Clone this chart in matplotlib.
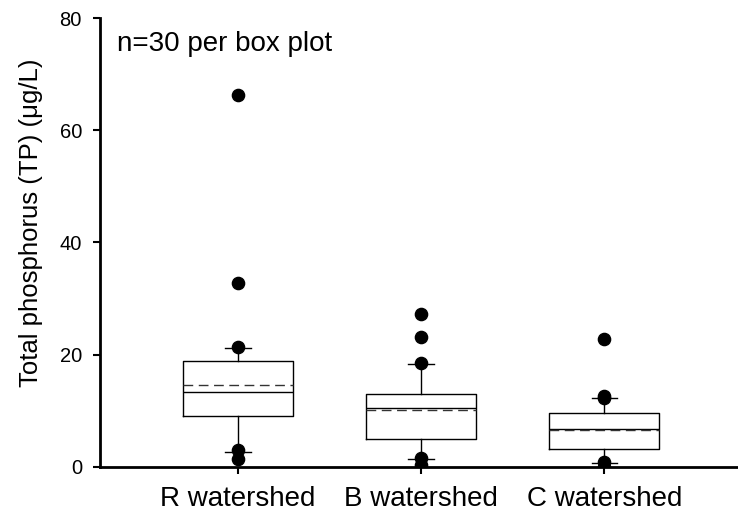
import matplotlib
matplotlib.use("Agg")
import matplotlib.pyplot as plt

plt.rcParams['font.family'] = ['Liberation Sans', 'DejaVu Sans']

# Box-plot summaries per watershed (TP, ug/L)
categories = ["R watershed", "B watershed", "C watershed"]
q1 = [9.1, 4.9, 3.1]
q3 = [18.9, 12.9, 9.5]
medians = [13.4, 10.5, 6.75]
means = [14.5, 10.1, 6.6]
whisker_low = [2.7, 1.4, 0.6]
whisker_high = [21.2, 18.4, 12.2]
outliers = [
    [66.4, 32.7, 21.4, 2.9, 1.3],
    [27.2, 23.1, 18.5, 1.5, 0.3],
    [22.7, 12.7, 12.2, 0.75, 0.0],
]
y_ticks = [0, 20, 40, 60, 80]

fig = plt.figure(figsize=(7.38, 5.15), dpi=100)
ax = fig.add_axes([0.1355, 0.0938, 0.8645, 0.8707])

stats = []
for i, name in enumerate(categories):
    stats.append(dict(label=name, q1=q1[i], q3=q3[i], med=medians[i],
                      mean=means[i], whislo=whisker_low[i],
                      whishi=whisker_high[i], fliers=outliers[i]))

positions = list(range(1, len(categories) + 1))
ax.bxp(stats, positions=positions, widths=0.6, showmeans=True, meanline=True,
       showfliers=True, capwidths=0.14,
       boxprops=dict(color='black', linewidth=1.0),
       medianprops=dict(color='black', linewidth=1.0),
       meanprops=dict(color='#333333', linewidth=1.0, linestyle=(0, (7, 4))),
       whiskerprops=dict(color='black', linewidth=1.0),
       capprops=dict(color='black', linewidth=1.0),
       flierprops=dict(marker='o', markerfacecolor='black',
                       markeredgecolor='black', markersize=8.8))

ax.set_xlim(0.247, 3.729)
ax.set_ylim(0, 80)
ax.set_yticks(y_ticks)
ax.set_xticks(positions)
ax.set_xticklabels(categories, fontsize=20)
ax.tick_params(axis='y', labelsize=14.5, direction='out', length=5, width=1.5, pad=8)
ax.tick_params(axis='x', direction='out', length=5, width=1.5, pad=9)

for side in ('top', 'right'):
    ax.spines[side].set_visible(False)
for side in ('left', 'bottom'):
    ax.spines[side].set_linewidth(2)

ax.set_ylabel("Total phosphorus (TP) (μg/L)", fontsize=18.5)
ax.yaxis.set_label_coords(-0.09, 0.543)
ax.text(0.026, 0.972, "n=30 per box plot", transform=ax.transAxes,
        fontsize=20, ha='left', va='top')

fig.savefig("out.png", dpi=100)
